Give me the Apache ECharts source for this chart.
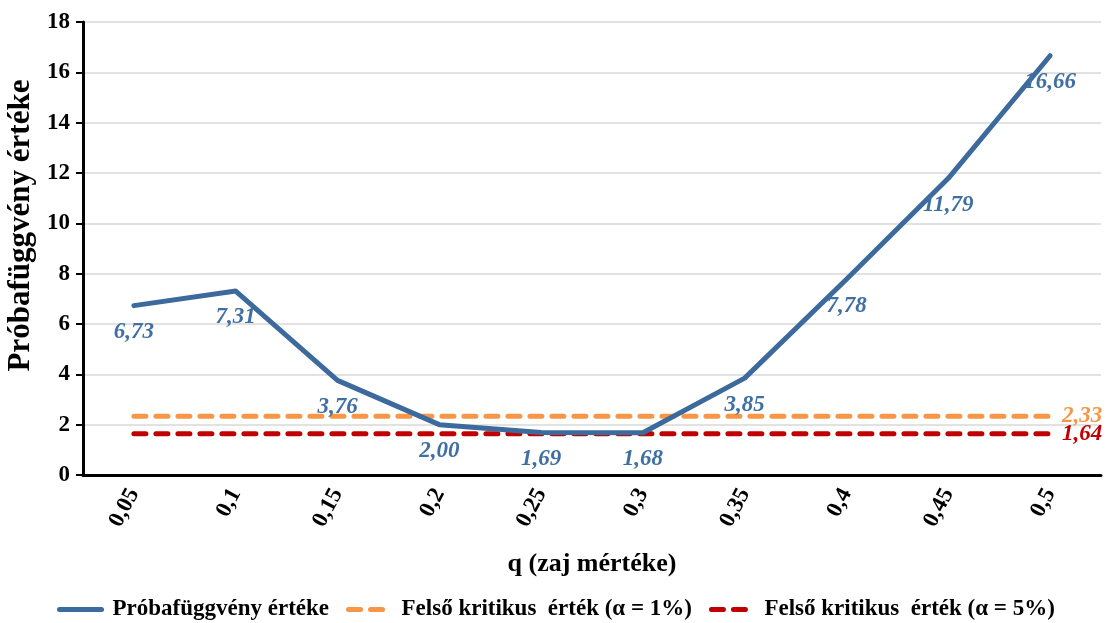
<!DOCTYPE html>
<html><head><meta charset="utf-8">
<script src="https://cdn.jsdelivr.net/npm/echarts@6/dist/echarts.min.js"></script>
<style>html,body{margin:0;padding:0;background:#fff}#c{width:1111px;height:623px}</style>
</head><body><div id="c"></div>
<script>
const categories = ['0,05','0,1','0,15','0,2','0,25','0,3','0,35','0,4','0,45','0,5'];
const testValues = [6.73, 7.31, 3.76, 2.00, 1.69, 1.68, 3.85, 7.78, 11.79, 16.66];
const crit1Values = [2.33, 2.33, 2.33, 2.33, 2.33, 2.33, 2.33, 2.33, 2.33, 2.33];
const crit5Values = [1.64, 1.64, 1.64, 1.64, 1.64, 1.64, 1.64, 1.64, 1.64, 1.64];
const seriesNames = ['Próbafüggvény értéke', 'Felső kritikus  érték (α = 1%)', 'Felső kritikus  érték (α = 5%)'];

const FONT = 'Liberation Serif';
const fmt = v => v.toFixed(2).replace('.', ',');
const chart = echarts.init(document.getElementById('c'));
const lastLabel = (color) => ({
  show: true, position: 'right', distance: 12,
  fontFamily: FONT, fontWeight: 'bold', fontStyle: 'italic', fontSize: 23, color: color,
  formatter: p => p.dataIndex === categories.length - 1 ? fmt(p.value) : ''
});
chart.setOption({
  animation: false,
  textStyle: { fontFamily: FONT },
  grid: { left: 83, top: 22, right: 10, bottom: 148, containLabel: false, outerBoundsMode: 'none' },
  xAxis: {
    type: 'category', data: categories, boundaryGap: true,
    name: 'q (zaj mértéke)', nameLocation: 'middle', nameGap: 76,
    nameTextStyle: { fontFamily: FONT, fontWeight: 'bold', fontSize: 26, color: '#000' },
    axisLine: { lineStyle: { color: '#000', width: 3 } },
    axisTick: { alignWithLabel: true, length: 7, lineStyle: { color: '#000', width: 2 } },
    axisLabel: { rotate: 62, fontFamily: FONT, fontWeight: 'bold', fontSize: 23, color: '#000', margin: 15 },
    splitLine: { show: false }
  },
  yAxis: {
    type: 'value', min: 0, max: 18, interval: 2,
    name: 'Próbafüggvény értéke', nameLocation: 'middle', nameGap: 46, nameRotate: 90,
    nameTextStyle: { fontFamily: FONT, fontWeight: 'bold', fontSize: 31, color: '#000', padding: [0, 0, 0, 46] },
    axisLine: { show: true, lineStyle: { color: '#000', width: 3 } },
    axisTick: { show: true, length: 7, lineStyle: { color: '#000', width: 2 } },
    axisLabel: { fontFamily: FONT, fontWeight: 'bold', fontSize: 23, color: '#000', margin: 13 },
    splitLine: { lineStyle: { color: '#d9d9d9', width: 1.5 } }
  },
  legend: {
    bottom: -3, left: 52, itemWidth: 42, itemHeight: 12, itemGap: 17,
    itemStyle: { opacity: 0, borderWidth: 0 },
    lineStyle: { width: 5, cap: 'round' },
    textStyle: { fontFamily: FONT, fontWeight: 'bold', fontSize: 23, color: '#000', padding: [0, 0, 0, 6] },
    data: seriesNames
  },
  series: [
    {
      name: seriesNames[1], type: 'line', data: crit1Values, symbol: 'circle', symbolSize: 0, z: 2,
      lineStyle: { color: '#F79646', width: 5, type: [12, 10], cap: 'round' },
      itemStyle: { color: '#F79646' },
      label: lastLabel('#F79646')
    },
    {
      name: seriesNames[2], type: 'line', data: crit5Values, symbol: 'circle', symbolSize: 0, z: 2,
      lineStyle: { color: '#C00000', width: 5, type: [12, 10], cap: 'round' },
      itemStyle: { color: '#C00000' },
      label: lastLabel('#C00000')
    },
    {
      name: seriesNames[0], type: 'line', data: testValues, symbol: 'circle', symbolSize: 0, z: 3,
      lineStyle: { color: '#3C6A9C', width: 5, cap: 'round', join: 'round' },
      itemStyle: { color: '#3C6A9C' },
      label: {
        show: true, position: 'bottom', distance: 15,
        fontFamily: FONT, fontWeight: 'bold', fontStyle: 'italic', fontSize: 23, color: '#3F6FA3',
        formatter: p => fmt(p.value)
      }
    }
  ]
});
</script></body></html>
